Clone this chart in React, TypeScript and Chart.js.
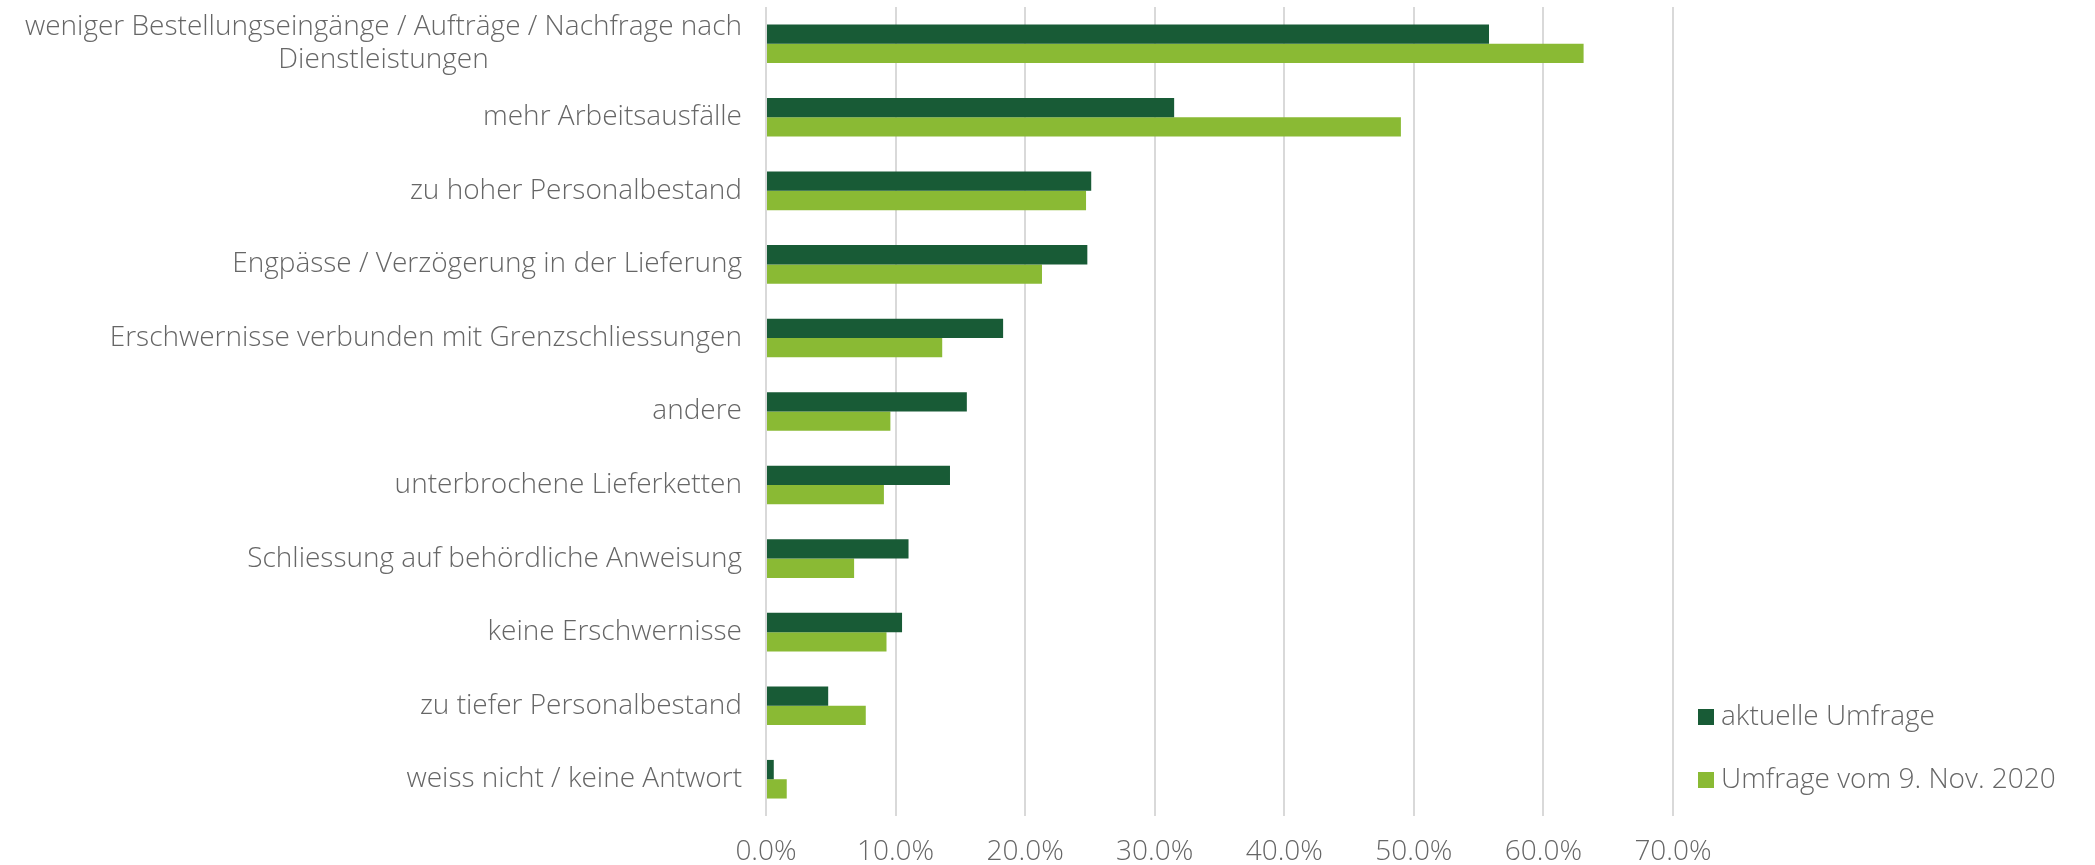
import React, { useEffect, useRef } from "react";
import { Chart, registerables } from "chart.js";

Chart.register(...registerables);

const categories: (string | string[])[] = [
  ["weniger Bestellungseingänge / Aufträge / Nachfrage nach", "Dienstleistungen"],
  "mehr Arbeitsausfälle",
  "zu hoher Personalbestand",
  "Engpässe / Verzögerung in der Lieferung",
  "Erschwernisse verbunden mit Grenzschliessungen",
  "andere",
  "unterbrochene Lieferketten",
  "Schliessung auf behördliche Anweisung",
  "keine Erschwernisse",
  "zu tiefer Personalbestand",
  "weiss nicht / keine Antwort",
];
const currentSurvey = [55.8, 31.5, 25.1, 24.8, 18.3, 15.5, 14.2, 11.0, 10.5, 4.8, 0.6];
const novSurvey = [63.1, 49.0, 24.7, 21.3, 13.6, 9.6, 9.1, 6.8, 9.3, 7.7, 1.6];
const seriesNames = ["aktuelle Umfrage", "Umfrage vom 9. Nov. 2020"];
const seriesColors = ["#185B36", "#8ABA34"];
const xMin = 0;
const xMax = 70;
const xStep = 10;

const FONT_FAMILY = "'Open Sans', 'Noto Sans', sans-serif";
const FONT_WEIGHT = "300";
const FONT_SIZE = 28;
const TEXT_COLOR = "#666666";

const yLabelPlugin = {
  id: "yLabels",
  afterDraw(chart: any) {
    const ys = chart.scales.y;
    const ctx = chart.ctx;
    ctx.save();
    ctx.font = `${FONT_WEIGHT} ${FONT_SIZE}px ${FONT_FAMILY}`;
    ctx.fillStyle = TEXT_COLOR;
    ctx.textBaseline = "middle";
    ctx.textAlign = "center";
    const lineH = 33;
    const right = chart.chartArea.left - 24;
    (chart.data.labels as any[]).forEach((lab, i) => {
      const lines: string[] = Array.isArray(lab) ? lab : [lab];
      const w = Math.max(...lines.map((l) => ctx.measureText(l).width));
      const yc = ys.getPixelForTick(i);
      lines.forEach((l, j) => {
        const ly = yc + (j - (lines.length - 1) / 2) * lineH;
        ctx.fillText(l, right - w / 2, ly);
      });
    });
    ctx.restore();
  },
};

const legendPlugin = {
  id: "customLegend",
  afterDraw(chart: any) {
    const ctx = chart.ctx;
    ctx.save();
    ctx.font = `${FONT_WEIGHT} ${FONT_SIZE}px ${FONT_FAMILY}`;
    ctx.textBaseline = "middle";
    ctx.textAlign = "left";
    const x0 = chart.chartArea.right + 25;
    const yPos = [717, 780];
    chart.data.datasets.forEach((ds: any, i: number) => {
      const y = yPos[i];
      ctx.fillStyle = ds.backgroundColor;
      ctx.fillRect(x0, y - 8, 16, 16);
      ctx.fillStyle = TEXT_COLOR;
      ctx.fillText(ds.label, x0 + 23, y);
    });
    ctx.restore();
  },
};

export default function App() {
  const ref = useRef<HTMLCanvasElement | null>(null);
  useEffect(() => {
    document.body.style.margin = "0";
    const canvas = ref.current!;
    const chart = new Chart(canvas, {
      type: "bar",
      data: {
        labels: categories as any,
        datasets: [
          {
            label: seriesNames[0],
            data: currentSurvey,
            backgroundColor: seriesColors[0],
            categoryPercentage: 0.525,
            barPercentage: 1.0,
          },
          {
            label: seriesNames[1],
            data: novSurvey,
            backgroundColor: seriesColors[1],
            categoryPercentage: 0.525,
            barPercentage: 1.0,
          },
        ],
      },
      options: {
        indexAxis: "y",
        responsive: false,
        animation: false,
        devicePixelRatio: 1,
        layout: { padding: { top: 7, right: 422, left: 0, bottom: 0 } },
        plugins: {
          legend: { display: false },
          tooltip: { enabled: false },
        },
        scales: {
          x: {
            type: "linear",
            min: xMin,
            max: xMax,
            grid: { color: "#D9D9D9", lineWidth: 2, drawTicks: false },
            border: { display: false },
            ticks: {
              stepSize: xStep,
              padding: 19,
              color: TEXT_COLOR,
              font: { family: FONT_FAMILY, size: FONT_SIZE, weight: FONT_WEIGHT as any },
              callback: (v: any) => Number(v).toFixed(1) + "%",
            },
            afterFit: (s: any) => {
              s.height = 49;
            },
          },
          y: {
            type: "category",
            grid: { display: false },
            border: { display: false },
            ticks: { display: false },
            afterFit: (s: any) => {
              s.width = 766;
            },
          },
        },
      },
      plugins: [yLabelPlugin, legendPlugin],
    });
    return () => chart.destroy();
  }, []);
  return (
    <div style={{ width: 2095, height: 865 }}>
      <canvas ref={ref} width={2095} height={865} />
    </div>
  );
}
